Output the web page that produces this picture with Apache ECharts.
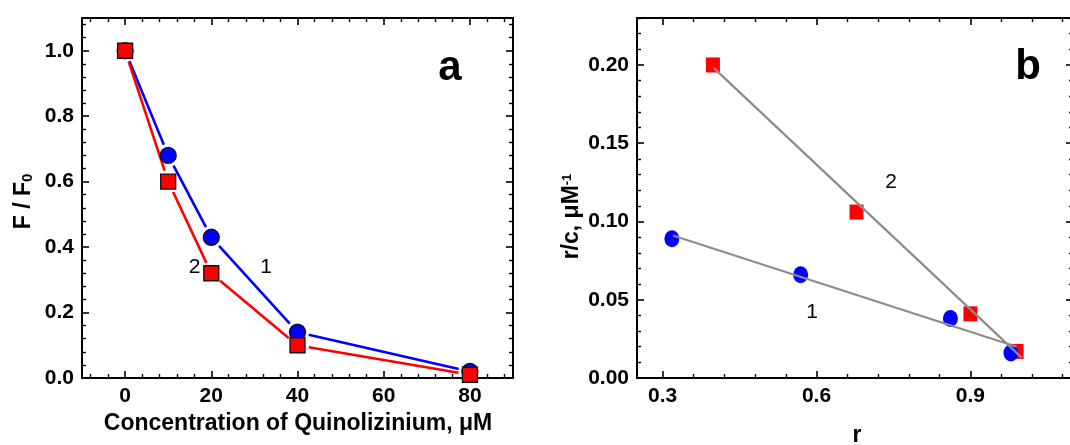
<!DOCTYPE html>
<html>
<head>
<meta charset="utf-8">
<script src="https://cdn.jsdelivr.net/npm/echarts@6/dist/echarts.min.js"></script>
<style>
  html, body { margin: 0; padding: 0; background: #fff; }
  #chart { width: 1070px; height: 445px; }
</style>
</head>
<body>
<div id="chart"></div>
<script>
// ---- Panel a: relative fluorescence vs. quinolizinium concentration ----
const concentration = [0, 10, 20, 40, 80];
const quench1 = [1.0, 0.68, 0.43, 0.14, 0.02];
const quench2 = [1.0, 0.60, 0.32, 0.10, 0.01];

// ---- Panel b: Scatchard plot ----
const r1 = [0.318, 0.569, 0.861, 0.979];
const rc1 = [0.089, 0.066, 0.038, 0.016];
const r2 = [0.398, 0.678, 0.900, 0.990];
const rc2 = [0.200, 0.106, 0.041, 0.017];

// linear fits (end points)
const fit1R = [0.32, 0.99];
const fit1Y = [0.091, 0.020];
const fit2R = [0.40, 1.00];
const fit2Y = [0.198, 0.013];

// major ticks and their labels
const aXTicks = [0, 20, 40, 60, 80];
const aXTickLabels = ['0', '20', '40', '60', '80'];
const aYTicks = [0, 0.2, 0.4, 0.6, 0.8, 1.0];
const aYTickLabels = ['0.0', '0.2', '0.4', '0.6', '0.8', '1.0'];
const bXTicks = [0.3, 0.6, 0.9];
const bXTickLabels = ['0.3', '0.6', '0.9'];
const bYTicks = [0, 0.05, 0.10, 0.15, 0.20];
const bYTickLabels = ['0.00', '0.05', '0.10', '0.15', '0.20'];

const FONT = '"Liberation Sans", Arial, Helvetica, sans-serif';
const BLUE = '#0000ff';
const RED = '#ff0000';
const GREY = '#8c8c8c';
const GAP = 11.5; // line gap around symbols in panel a

// minor ticks: every step, five per major interval, skipping the majors
function minorTicks(min, max, step) {
  const out = [];
  for (let k = Math.ceil(min / step - 1e-9); k * step <= max + 1e-9; k++) {
    if (k % 5 !== 0) out.push(+(k * step).toFixed(6));
  }
  return out;
}

function majorAxis(o) {
  const ticks = o.ticks;
  const labels = o.labels;
  return {
    type: 'value', gridIndex: o.grid, position: o.position,
    min: o.min, max: o.max,
    axisLine: { show: true, onZero: false, lineStyle: { color: '#000', width: 2 } },
    axisTick: { show: true, inside: true, length: 7, customValues: ticks,
                lineStyle: { color: '#000', width: 1.6 } },
    minorTick: { show: false },
    splitLine: { show: false },
    axisLabel: labels ? {
      show: true,
      customValues: ticks,
      formatter: function (v) {
        for (let i = 0; i < ticks.length; i++) {
          if (Math.abs(ticks[i] - v) < 1e-9) return labels[i];
        }
        return '';
      },
      fontSize: 21, fontWeight: 'bold', fontFamily: FONT, color: '#000', margin: 8
    } : { show: false }
  };
}

function minorAxis(o) {
  return {
    type: 'value', gridIndex: o.grid, position: o.position,
    min: o.min, max: o.max,
    axisLine: { show: false, onZero: false },
    axisTick: { show: true, inside: true, length: 4, customValues: minorTicks(o.min, o.max, o.step),
                lineStyle: { color: '#000', width: 1.4 } },
    minorTick: { show: false },
    splitLine: { show: false },
    axisLabel: { show: false }
  };
}

function pairs(xs, ys) {
  return xs.map((x, i) => [x, ys[i]]);
}

function segments(xs, ys) {
  const out = [];
  for (let i = 0; i < xs.length - 1; i++) out.push([xs[i], ys[i], xs[i + 1], ys[i + 1]]);
  return out;
}

// connecting line with small breaks next to each symbol
function gappedLine(xs, ys, color) {
  return {
    type: 'custom', xAxisIndex: 0, yAxisIndex: 0, silent: true,
    data: segments(xs, ys),
    encode: { x: [0, 2], y: [1, 3] },
    renderItem: function (params, api) {
      const p = api.coord([api.value(0), api.value(1)]);
      const q = api.coord([api.value(2), api.value(3)]);
      const dx = q[0] - p[0], dy = q[1] - p[1];
      const len = Math.hypot(dx, dy);
      const ux = dx / len, uy = dy / len;
      return {
        type: 'line',
        shape: {
          x1: p[0] + ux * GAP, y1: p[1] + uy * GAP,
          x2: q[0] - ux * GAP, y2: q[1] - uy * GAP
        },
        style: { stroke: color, lineWidth: 2.6, lineCap: 'butt' }
      };
    }
  };
}

function txt(x, y, text, font) {
  return {
    type: 'text', x: x, y: y, silent: true,
    style: {
      text: text, font: font, fill: '#000',
      align: 'center', verticalAlign: 'middle',
      textAlign: 'center', textVerticalAlign: 'middle'
    }
  };
}

const A_X = { grid: 0, min: -10, max: 90, step: 4, ticks: aXTicks };
const A_Y = { grid: 0, min: 0, max: 1.1, step: 0.04, ticks: aYTicks };
const B_X = { grid: 1, min: 0.25, max: 1.1, step: 0.06, ticks: bXTicks };
const B_Y = { grid: 1, min: 0, max: 0.23, step: 0.01, ticks: bYTicks };

const chart = echarts.init(document.getElementById('chart'), null, { renderer: 'canvas' });

chart.setOption({
  backgroundColor: '#fff',
  animation: false,
  grid: [
    { left: 82, top: 18, width: 431, height: 360, outerBoundsMode: 'none', containLabel: false },
    { left: 637, top: 18, width: 436, height: 360, outerBoundsMode: 'none', containLabel: false }
  ],
  xAxis: [
    majorAxis(Object.assign({ position: 'bottom', labels: aXTickLabels }, A_X)),   // 0
    majorAxis(Object.assign({ position: 'top' }, A_X)),                            // 1
    minorAxis(Object.assign({ position: 'bottom' }, A_X)),                         // 2
    minorAxis(Object.assign({ position: 'top' }, A_X)),                            // 3
    majorAxis(Object.assign({ position: 'bottom', labels: bXTickLabels }, B_X)),   // 4
    majorAxis(Object.assign({ position: 'top' }, B_X)),                            // 5
    minorAxis(Object.assign({ position: 'bottom' }, B_X)),                         // 6
    minorAxis(Object.assign({ position: 'top' }, B_X))                             // 7
  ],
  yAxis: [
    majorAxis(Object.assign({ position: 'left', labels: aYTickLabels }, A_Y)),     // 0
    majorAxis(Object.assign({ position: 'right' }, A_Y)),                          // 1
    minorAxis(Object.assign({ position: 'left' }, A_Y)),                           // 2
    minorAxis(Object.assign({ position: 'right' }, A_Y)),                          // 3
    majorAxis(Object.assign({ position: 'left', labels: bYTickLabels }, B_Y)),     // 4
    majorAxis(Object.assign({ position: 'right' }, B_Y)),                          // 5
    minorAxis(Object.assign({ position: 'left' }, B_Y)),                           // 6
    minorAxis(Object.assign({ position: 'right' }, B_Y))                           // 7
  ],
  series: [
    // panel a
    gappedLine(concentration, quench1, BLUE),
    gappedLine(concentration, quench2, RED),
    {
      type: 'scatter', xAxisIndex: 0, yAxisIndex: 0,
      data: pairs(concentration, quench1),
      symbol: 'circle', symbolSize: 16,
      itemStyle: { color: BLUE, borderColor: '#111', borderWidth: 1.3, opacity: 1 }
    },
    {
      type: 'scatter', xAxisIndex: 0, yAxisIndex: 0,
      data: pairs(concentration, quench2),
      symbol: 'rect', symbolSize: 15,
      itemStyle: { color: RED, borderColor: '#111', borderWidth: 1.3, opacity: 1 }
    },
    // panel b
    {
      type: 'scatter', xAxisIndex: 4, yAxisIndex: 4,
      data: pairs(r2, rc2),
      symbol: 'rect', symbolSize: [14, 15],
      itemStyle: { color: RED, opacity: 1 }
    },
    {
      type: 'scatter', xAxisIndex: 4, yAxisIndex: 4,
      data: pairs(r1, rc1),
      symbol: 'circle', symbolSize: [15, 17],
      itemStyle: { color: BLUE, opacity: 1 }
    },
    {
      type: 'line', xAxisIndex: 4, yAxisIndex: 4,
      data: pairs(fit1R, fit1Y), showSymbol: false, symbol: 'none',
      lineStyle: { color: GREY, width: 2.2 }, z: 5
    },
    {
      type: 'line', xAxisIndex: 4, yAxisIndex: 4,
      data: pairs(fit2R, fit2Y), showSymbol: false, symbol: 'none',
      lineStyle: { color: GREY, width: 2.2 }, z: 5
    }
  ],
  graphic: [
    // panel letters
    txt(450, 68.5, 'a', 'bold 42px ' + FONT),
    txt(1028, 67, 'b', 'bold 42px ' + FONT),
    // curve numbers
    txt(194.5, 267.7, '2', '21px ' + FONT),
    txt(266, 267.7, '1', '21px ' + FONT),
    txt(891, 182.7, '2', '21px ' + FONT),
    txt(812, 312.7, '1', '21px ' + FONT),
    // axis titles
    txt(298, 423.7, 'Concentration of Quinolizinium, μM', 'bold 23px ' + FONT),
    txt(857, 436, 'r', 'bold 23px ' + FONT),
    {
      type: 'text', x: 23.7, y: 201.5, rotation: Math.PI / 2, silent: true,
      style: {
        text: '{m|F / F}{s|0}',
        fill: '#000',
        align: 'center', verticalAlign: 'middle',
        textAlign: 'center', textVerticalAlign: 'middle',
        rich: {
          m: { fontSize: 23, fontWeight: 'bold', fontFamily: FONT, lineHeight: 23, fill: '#000' },
          s: { fontSize: 15, fontWeight: 'bold', fontFamily: FONT, lineHeight: 13, verticalAlign: 'bottom', fill: '#000' }
        }
      }
    },
    {
      type: 'text', x: 572, y: 216.5, rotation: Math.PI / 2, silent: true,
      style: {
        text: '{m|r/c, μM}{s|-1}',
        fill: '#000',
        align: 'center', verticalAlign: 'middle',
        textAlign: 'center', textVerticalAlign: 'middle',
        rich: {
          m: { fontSize: 23, fontWeight: 'bold', fontFamily: FONT, lineHeight: 23, fill: '#000' },
          s: { fontSize: 13, fontWeight: 'bold', fontFamily: FONT, lineHeight: 13, verticalAlign: 'top', fill: '#000' }
        }
      }
    }
  ]
});
</script>
</body>
</html>
